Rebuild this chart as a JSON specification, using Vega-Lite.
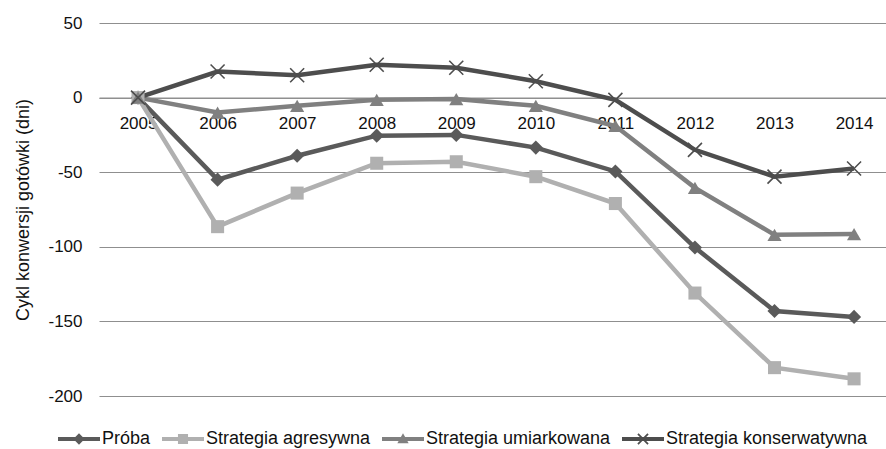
{
  "$schema": "https://vega.github.io/schema/vega-lite/v6.json",
  "width": 787,
  "height": 373,
  "autosize": {"type": "none"},
  "padding": {"left": 99, "top": 23, "right": 0, "bottom": 53},
  "background": "#ffffff",
  "config": {
    "font": "Liberation Sans",
    "view": {"stroke": null}
  },
  "data": {
    "values": [
      {"rok": "2005", "seria": "Próba", "dni": 0},
      {"rok": "2006", "seria": "Próba", "dni": -55},
      {"rok": "2007", "seria": "Próba", "dni": -39},
      {"rok": "2008", "seria": "Próba", "dni": -25.5},
      {"rok": "2009", "seria": "Próba", "dni": -25},
      {"rok": "2010", "seria": "Próba", "dni": -33.5},
      {"rok": "2011", "seria": "Próba", "dni": -49.5},
      {"rok": "2012", "seria": "Próba", "dni": -100.5},
      {"rok": "2013", "seria": "Próba", "dni": -143},
      {"rok": "2014", "seria": "Próba", "dni": -147},
      {"rok": "2005", "seria": "Strategia agresywna", "dni": 0},
      {"rok": "2006", "seria": "Strategia agresywna", "dni": -86.5},
      {"rok": "2007", "seria": "Strategia agresywna", "dni": -64},
      {"rok": "2008", "seria": "Strategia agresywna", "dni": -44},
      {"rok": "2009", "seria": "Strategia agresywna", "dni": -43},
      {"rok": "2010", "seria": "Strategia agresywna", "dni": -53},
      {"rok": "2011", "seria": "Strategia agresywna", "dni": -71},
      {"rok": "2012", "seria": "Strategia agresywna", "dni": -131},
      {"rok": "2013", "seria": "Strategia agresywna", "dni": -181},
      {"rok": "2014", "seria": "Strategia agresywna", "dni": -188.5},
      {"rok": "2005", "seria": "Strategia umiarkowana", "dni": 0},
      {"rok": "2006", "seria": "Strategia umiarkowana", "dni": -10},
      {"rok": "2007", "seria": "Strategia umiarkowana", "dni": -5.5},
      {"rok": "2008", "seria": "Strategia umiarkowana", "dni": -1.5},
      {"rok": "2009", "seria": "Strategia umiarkowana", "dni": -1},
      {"rok": "2010", "seria": "Strategia umiarkowana", "dni": -5.5},
      {"rok": "2011", "seria": "Strategia umiarkowana", "dni": -19},
      {"rok": "2012", "seria": "Strategia umiarkowana", "dni": -60.5},
      {"rok": "2013", "seria": "Strategia umiarkowana", "dni": -92},
      {"rok": "2014", "seria": "Strategia umiarkowana", "dni": -91.5},
      {"rok": "2005", "seria": "Strategia konserwatywna", "dni": 0},
      {"rok": "2006", "seria": "Strategia konserwatywna", "dni": 17.5},
      {"rok": "2007", "seria": "Strategia konserwatywna", "dni": 15},
      {"rok": "2008", "seria": "Strategia konserwatywna", "dni": 22},
      {"rok": "2009", "seria": "Strategia konserwatywna", "dni": 20},
      {"rok": "2010", "seria": "Strategia konserwatywna", "dni": 11},
      {"rok": "2011", "seria": "Strategia konserwatywna", "dni": -1.5},
      {"rok": "2012", "seria": "Strategia konserwatywna", "dni": -35},
      {"rok": "2013", "seria": "Strategia konserwatywna", "dni": -53},
      {"rok": "2014", "seria": "Strategia konserwatywna", "dni": -47.5}
    ]
  },
  "encoding": {
    "x": {
      "field": "rok",
      "type": "ordinal",
      "scale": {"type": "point", "padding": 0.446, "align": 0.55},
      "axis": {
        "title": null,
        "labelAngle": 0,
        "ticks": false,
        "grid": false,
        "domain": true,
        "domainColor": "#8f8f8f",
        "domainWidth": 1.2,
        "labelFontSize": 17,
        "labelColor": "#111111",
        "labelPadding": 18,
        "offset": {"expr": "scale('y', 0) - height"}
      }
    },
    "y": {
      "field": "dni",
      "type": "quantitative",
      "scale": {"domain": [-200, 50], "nice": false, "zero": false},
      "axis": {
        "title": "Cykl konwersji gotówki (dni)",
        "titleFontSize": 18,
        "titleFontWeight": "normal",
        "titleColor": "#111111",
        "titlePadding": 15,
        "values": [-200, -150, -100, -50, 0, 50],
        "labelExpr": "replace(datum.label, '\u2212', '-')",
        "domain": false,
        "ticks": false,
        "grid": true,
        "gridColor": "#8f8f8f",
        "gridWidth": 1.2,
        "labelFontSize": 17,
        "labelColor": "#111111",
        "labelPadding": 17
      }
    }
  },
  "layer": [
    {
      "mark": {"type": "line", "strokeWidth": 4.5},
      "encoding": {
        "color": {
          "field": "seria",
          "type": "nominal",
          "scale": {
            "domain": ["Próba", "Strategia agresywna", "Strategia umiarkowana", "Strategia konserwatywna"],
            "range": ["#5a5a5a", "#b0b0b0", "#808080", "#4d4d4d"]
          },
          "legend": {
            "orient": "none",
            "legendX": -41,
            "legendY": 395,
            "direction": "horizontal",
            "title": null,
            "labelFontSize": 18,
            "labelColor": "#111111",
            "labelLimit": 400,
            "symbolSize": 1764,
            "symbolStrokeWidth": 0,
            "symbolOpacity": 1,
            "symbolFillColor": {"expr": "scale('color', datum.value)"},
            "symbolType": {"expr": "datum.value === 'Próba' ? 'M-1,-0.095H1V0.095H-1Z M0,-0.27L0.27,0L0,0.27L-0.27,0Z' : datum.value === 'Strategia agresywna' ? 'M-1,-0.095H1V0.095H-1Z M-0.24,-0.24H0.24V0.24H-0.24Z' : datum.value === 'Strategia umiarkowana' ? 'M-1,-0.095H1V0.095H-1Z M0,-0.27L0.27,0.2L-0.27,0.2Z' : 'M-1,-0.095H1V0.095H-1Z M-0.27,-0.21L-0.21,-0.27L0.27,0.21L0.21,0.27Z M0.21,-0.27L0.27,-0.21L-0.21,0.27L-0.27,0.21Z'"},
            "labelOffset": 2,
            "columnPadding": 11
          }
        }
      }
    },
    {
      "transform": [{"filter": "datum.seria === 'Próba'"}],
      "mark": {"type": "point", "filled": true, "opacity": 1, "size": 200, "shape": "diamond"},
      "encoding": {"color": {"field": "seria", "type": "nominal", "legend": null}}
    },
    {
      "transform": [{"filter": "datum.seria === 'Strategia agresywna'"}],
      "mark": {"type": "point", "filled": true, "opacity": 1, "size": 170, "shape": "square"},
      "encoding": {"color": {"field": "seria", "type": "nominal", "legend": null}}
    },
    {
      "transform": [{"filter": "datum.seria === 'Strategia umiarkowana'"}],
      "mark": {"type": "point", "filled": true, "opacity": 1, "size": 200, "shape": "triangle-up"},
      "encoding": {"color": {"field": "seria", "type": "nominal", "legend": null}}
    },
    {
      "transform": [{"filter": "datum.seria === 'Strategia konserwatywna'"}],
      "mark": {"type": "point", "filled": true, "opacity": 1, "size": 196, "shape": "M-1.08,-0.92L-0.92,-1.08L1.08,0.92L0.92,1.08Z M0.92,-1.08L1.08,-0.92L-0.92,1.08L-1.08,0.92Z"},
      "encoding": {"color": {"field": "seria", "type": "nominal", "legend": null}}
    }
  ]
}
